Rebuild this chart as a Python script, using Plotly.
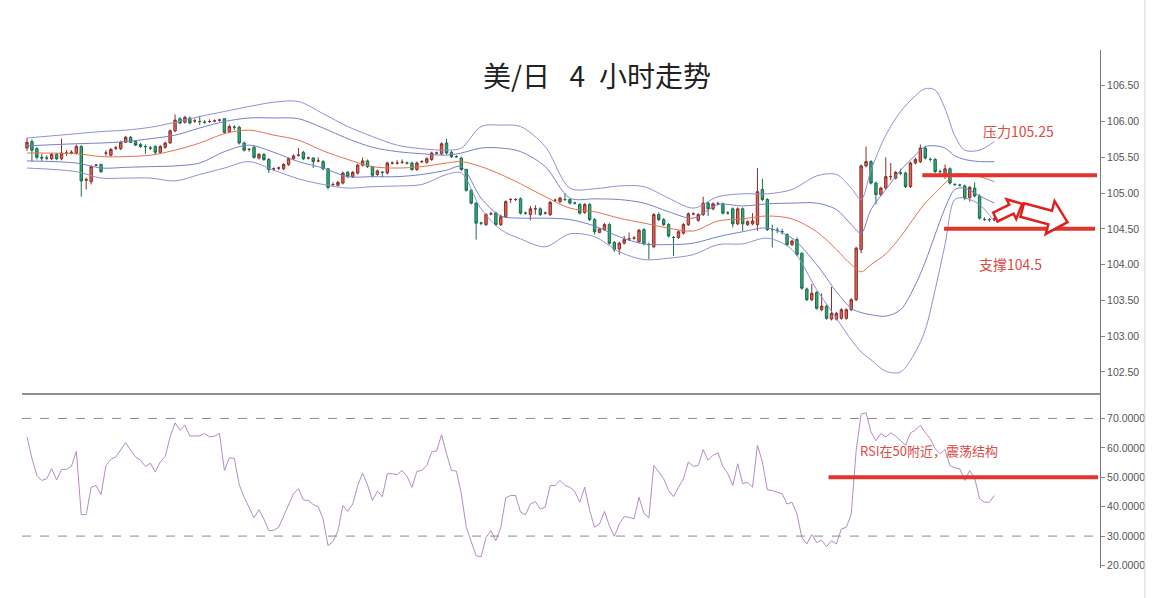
import math
import plotly.graph_objects as go

# ---------------- data ----------------
open_ = [105.63,105.72,105.62,105.50,105.49,105.48,105.54,105.48,105.56,105.56,
         105.56,105.65,105.18,105.16,105.39,105.40,105.56,105.53,105.63,105.62,
         105.71,105.78,105.72,105.68,105.65,105.63,105.65,105.57,105.64,105.70,
         105.87,106.04,105.99,106.05,106.01,106.00,105.99,106.00,106.01,106.02,
         106.04,105.86,105.92,105.92,105.70,105.61,105.64,105.49,105.54,105.47,
         105.34,105.35,105.34,105.40,105.48,105.53,105.57,105.49,105.49,105.45,
         105.44,105.34,105.12,105.11,105.14,105.29,105.23,105.28,105.39,105.45,
         105.37,105.26,105.29,105.28,105.42,105.42,105.43,105.42,105.42,105.33,
         105.44,105.43,105.47,105.56,105.55,105.70,105.57,105.51,105.49,105.33,
         105.04,104.86,104.58,104.56,104.71,104.72,104.56,104.67,104.91,104.91,
         104.92,104.72,104.70,104.78,104.78,104.72,104.70,104.90,104.88,104.91,
         104.91,104.86,104.84,104.73,104.84,104.63,104.45,104.49,104.56,104.31,
         104.22,104.30,104.36,104.37,104.32,104.49,104.28,104.25,104.70,104.63,
         104.56,104.38,104.38,104.44,104.56,104.71,104.62,104.70,104.86,104.78,
         104.85,104.85,104.72,104.78,104.57,104.78,104.56,104.57,104.56,105.05,
         104.91,104.49,104.48,104.46,104.42,104.28,104.35,104.16,103.66,103.51,
         103.61,103.37,103.42,103.24,103.24,103.25,103.25,103.37,103.51,104.21,
         105.38,105.44,105.14,104.98,105.07,105.23,105.21,105.28,105.28,105.09,
         105.42,105.44,105.63,105.47,105.47,105.30,105.26,105.34,105.12,105.11,
         105.10,104.94,105.07,104.96,104.63,104.63,104.64]
high_ = [105.77,105.75,105.64,105.55,105.53,105.56,105.56,105.76,105.60,105.60,
         105.68,105.67,105.22,105.39,105.41,105.41,105.60,105.63,105.66,105.73,
         105.80,105.80,105.74,105.70,105.68,105.66,105.67,105.67,105.72,105.89,
         106.10,106.06,106.08,106.07,106.04,106.08,106.02,106.03,106.03,106.04,
         106.05,105.96,105.95,105.94,105.72,105.63,105.66,105.56,105.56,105.49,
         105.36,105.37,105.42,105.50,105.54,105.63,105.59,105.51,105.50,105.50,
         105.46,105.35,105.15,105.17,105.30,105.31,105.31,105.41,105.50,105.47,
         105.38,105.33,105.31,105.44,105.44,105.46,105.47,105.44,105.44,105.44,
         105.46,105.50,105.58,105.58,105.71,105.76,105.59,105.53,105.51,105.34,
         105.05,104.87,104.60,104.72,104.74,104.74,104.70,104.90,104.93,104.93,
         104.94,104.74,104.82,104.83,104.80,104.74,104.89,104.92,104.95,105.00,
         104.92,104.88,104.86,104.86,104.86,104.65,104.50,104.58,104.58,104.33,
         104.32,104.40,104.45,104.40,104.50,104.51,104.31,104.72,104.73,104.65,
         104.58,104.40,104.48,104.58,104.73,104.73,104.72,104.95,104.88,104.87,
         104.88,104.87,104.75,104.80,104.80,104.80,104.62,104.72,105.35,105.20,
         104.93,104.56,104.52,104.50,104.44,104.35,104.38,104.17,103.68,103.73,
         103.63,103.60,103.44,103.69,103.34,103.39,103.39,103.53,104.25,105.40,
         105.65,105.46,105.16,105.09,105.50,105.42,105.31,105.34,105.30,105.44,
         105.50,105.68,105.66,105.50,105.49,105.33,105.40,105.36,105.14,105.13,
         105.12,105.10,105.15,104.98,104.66,104.65,104.67]
low_ = [105.59,105.44,105.47,105.45,105.46,105.46,105.46,105.46,105.52,105.54,
        105.54,104.95,105.05,105.12,105.37,105.28,105.52,105.51,105.60,105.60,
        105.70,105.70,105.66,105.63,105.55,105.60,105.53,105.55,105.62,105.69,
        105.85,105.96,105.97,105.96,105.98,105.95,105.97,105.98,105.99,106.00,
        105.83,105.84,105.88,105.68,105.58,105.58,105.48,105.47,105.45,105.28,
        105.31,105.32,105.32,105.38,105.46,105.51,105.46,105.47,105.35,105.43,
        105.32,105.05,105.09,105.09,105.12,105.21,105.21,105.26,105.37,105.35,
        105.22,105.24,105.22,105.26,105.40,105.40,105.41,105.40,105.31,105.31,
        105.42,105.41,105.45,105.54,105.53,105.54,105.49,105.49,105.31,105.02,
        104.84,104.35,104.55,104.54,104.69,104.54,104.54,104.65,104.86,104.89,
        104.70,104.70,104.62,104.70,104.68,104.70,104.68,104.88,104.86,104.89,
        104.84,104.84,104.70,104.71,104.61,104.42,104.44,104.47,104.28,104.18,
        104.14,104.28,104.33,104.35,104.30,104.27,104.07,104.23,104.61,104.54,
        104.38,104.12,104.36,104.42,104.54,104.69,104.60,104.68,104.68,104.76,
        104.83,104.70,104.70,104.52,104.55,104.47,104.54,104.55,104.47,104.89,
        104.47,104.24,104.44,104.42,104.26,104.26,104.12,103.65,103.49,103.49,
        103.37,103.35,103.23,103.22,103.22,103.23,103.23,103.35,103.49,104.16,
        105.36,105.12,104.84,104.96,105.05,105.18,105.19,105.25,105.07,105.07,
        105.40,105.42,105.47,105.44,105.28,105.27,105.20,105.12,105.10,105.09,
        104.90,104.88,104.94,104.63,104.61,104.60,104.61]
close_ = [105.71,105.60,105.50,105.49,105.49,105.54,105.48,105.56,105.56,105.57,
          105.65,105.17,105.19,105.37,105.39,105.30,105.56,105.61,105.63,105.71,
          105.78,105.71,105.67,105.65,105.65,105.63,105.57,105.65,105.70,105.87,
          106.02,105.98,106.06,105.98,106.01,106.00,105.99,106.00,106.01,106.02,
          105.85,105.93,105.92,105.70,105.60,105.61,105.50,105.54,105.47,105.33,
          105.34,105.35,105.40,105.48,105.52,105.53,105.48,105.49,105.44,105.45,
          105.34,105.08,105.12,105.15,105.28,105.23,105.29,105.39,105.45,105.37,
          105.25,105.31,105.29,105.42,105.42,105.42,105.43,105.42,105.33,105.42,
          105.44,105.48,105.56,105.56,105.69,105.56,105.51,105.51,105.33,105.04,
          104.86,104.58,104.58,104.70,104.71,104.56,104.67,104.88,104.91,104.91,
          104.72,104.72,104.78,104.78,104.70,104.72,104.87,104.90,104.93,104.91,
          104.86,104.86,104.72,104.84,104.63,104.46,104.50,104.56,104.30,104.21,
          104.30,104.35,104.36,104.37,104.48,104.29,104.28,104.70,104.63,104.56,
          104.40,104.38,104.46,104.56,104.71,104.71,104.70,104.86,104.78,104.85,
          104.85,104.72,104.72,104.57,104.78,104.57,104.60,104.61,105.02,104.91,
          104.49,104.49,104.48,104.46,104.28,104.33,104.14,103.67,103.51,103.60,
          103.39,103.42,103.25,103.32,103.32,103.37,103.37,103.51,104.23,105.38,
          105.44,105.14,104.98,105.07,105.23,105.23,105.29,105.28,105.09,105.42,
          105.47,105.63,105.49,105.47,105.30,105.30,105.34,105.14,105.12,105.11,
          104.93,105.08,104.96,104.65,104.63,104.63,104.64]

# Bollinger band lines, read at sampled bar positions
bb_idx = [0,10,15,20,25,30,35,40,45,50,55,60,65,70,75,80,85,88,92,96,100,105,110,
          115,120,125,130,135,140,145,150,155,160,164,167,169,171,174,177,180,182,
          184,186,188,190,193,196]
bb_outer_up = [105.77,105.83,105.86,105.88,105.92,105.99,106.07,106.14,106.21,106.27,
               106.28,106.11,105.93,105.79,105.67,105.62,105.60,105.63,105.93,105.95,
               105.93,105.65,105.07,105.06,105.10,105.09,104.93,104.79,104.95,104.99,
               104.99,105.05,105.24,105.26,105.07,104.91,105.32,105.81,106.14,106.36,
               106.46,106.44,106.18,105.80,105.60,105.60,105.72]
bb_inner_up = [105.66,105.69,105.70,105.72,105.76,105.81,105.91,106.00,106.05,106.05,
               106.04,105.91,105.76,105.64,105.58,105.55,105.53,105.56,105.63,105.63,
               105.58,105.37,104.93,104.92,104.91,104.86,104.74,104.65,104.84,104.82,
               104.85,104.86,104.86,104.77,104.56,104.44,104.77,105.05,105.32,105.53,
               105.65,105.66,105.63,105.52,105.47,105.44,105.44]
bb_mid = [105.56,105.55,105.51,105.51,105.53,105.60,105.70,105.83,105.88,105.81,
          105.74,105.59,105.47,105.37,105.35,105.37,105.42,105.44,105.37,105.26,
          105.13,104.95,104.79,104.74,104.65,104.58,104.51,104.47,104.61,104.64,
          104.68,104.64,104.46,104.21,104.00,103.90,104.00,104.15,104.39,104.68,
          104.86,105.00,105.14,105.26,105.27,105.23,105.16]
bb_inner_dn = [105.45,105.42,105.35,105.36,105.37,105.38,105.42,105.58,105.67,105.57,
               105.44,105.35,105.23,105.23,105.23,105.26,105.32,105.37,104.93,104.68,
               104.65,104.65,104.63,104.54,104.39,104.29,104.28,104.30,104.39,104.46,
               104.51,104.37,104.00,103.62,103.39,103.33,103.30,103.28,103.37,103.72,
               104.04,104.42,104.79,105.05,105.07,104.96,104.86]
bb_outer_dn = [105.35,105.30,105.21,105.21,105.21,105.17,105.26,105.35,105.44,105.32,
               105.20,105.12,105.07,105.09,105.10,105.12,105.26,105.28,104.78,104.49,
               104.36,104.25,104.43,104.39,104.18,104.07,104.09,104.14,104.28,104.29,
               104.37,104.21,103.65,103.25,102.95,102.78,102.67,102.51,102.50,102.78,
               103.09,103.65,104.28,104.91,104.93,104.84,104.60]

rsi = [63.7,56.5,50.6,48.9,49.5,52.9,49.1,52.6,52.7,53.7,58.8,37.3,37.3,46.6,47.2,44.1,
       54.0,56.1,56.9,59.5,61.8,59.2,56.9,55.8,53.7,54.8,51.8,55.2,57.1,63.7,68.5,66.0,
       67.7,64.0,64.0,64.1,64.9,63.7,64.0,64.9,52.3,56.6,56.4,47.5,43.2,39.8,36.2,39.0,
       35.8,31.8,32.0,33.0,37.0,40.5,44.4,46.1,42.3,42.1,40.7,40.0,35.8,26.7,28.2,31.8,
       40.4,38.4,40.9,47.2,51.4,47.4,42.1,45.3,43.4,51.2,51.2,50.9,52.3,50.3,46.6,52.0,
       52.3,54.0,58.6,58.9,64.5,58.0,52.3,52.1,44.4,33.0,28.4,23.3,23.0,29.5,31.8,28.4,
       33.0,43.0,43.8,43.8,38.1,37.3,40.9,41.7,39.2,39.8,47.2,47.2,48.9,47.2,46.6,45.2,
       41.5,46.6,38.7,33.0,34.1,38.4,33.5,29.9,34.1,36.6,36.4,35.8,43.2,37.7,36.2,54.0,
       51.8,49.5,45.5,43.4,46.6,49.5,55.2,53.7,54.0,59.4,55.8,57.5,58.3,53.7,51.2,47.2,
       54.6,47.8,48.3,46.6,60.9,55.2,45.7,45.5,44.9,44.4,40.9,41.5,37.5,29.5,27.3,30.5,
       27.8,28.6,26.4,28.4,27.3,32.4,33.0,37.5,59.2,71.5,71.9,65.4,62.4,64.9,63.7,65.1,
       64.0,62.6,60.9,65.1,66.0,67.7,65.1,63.2,59.7,58.0,59.4,54.0,53.2,52.9,48.9,52.3,
       49.8,42.7,41.5,41.5,43.8]

price_ticks = [102.5, 103.0, 103.5, 104.0, 104.5, 105.0, 105.5, 106.0, 106.5]
rsi_ticks = [20, 30, 40, 50, 60, 70]
resistance = 105.25
support = 104.5
rsi_mid = 50
rsi_bands = [70, 30]

bars = list(range(len(close_)))

# ---------------- layout geometry ----------------
W, H = 1157, 598
PL, PR, PT, PB = 22, 1103, 50, 568
SPLIT = 394  # pixel row between the two panels


def px(xp):
    return (xp - PL) / (PR - PL)


def py(yp):
    return (PB - yp) / (PB - PT)


split_frac = py(SPLIT)
x_range = [-1.01, 217.4]

fig = go.Figure()

outer_c = "#9090d4"
inner_c = "#7282c4"
mid_c = "#e4714e"
for arr, col in [(bb_outer_up, outer_c), (bb_inner_up, inner_c), (bb_mid, mid_c),
                 (bb_inner_dn, inner_c), (bb_outer_dn, outer_c)]:
    fig.add_trace(go.Scatter(x=bb_idx, y=arr, mode="lines",
                             line=dict(color=col, width=1, shape="spline", smoothing=0.9),
                             hoverinfo="skip", xaxis="x", yaxis="y"))

fig.add_trace(go.Candlestick(
    x=bars, open=open_, high=high_, low=low_, close=close_,
    increasing=dict(line=dict(color="#8a2f2a", width=1), fillcolor="#e0625a"),
    decreasing=dict(line=dict(color="#1d6b4b", width=1), fillcolor="#2eaa78"),
    xaxis="x", yaxis="y"))

fig.add_trace(go.Scatter(x=bars, y=rsi, mode="lines",
                         line=dict(color="#b48ac6", width=1),
                         xaxis="x2", yaxis="y2", hoverinfo="skip"))

shapes = []
# separator between panels
shapes.append(dict(type="line", xref="paper", yref="paper", x0=0, x1=1,
                   y0=split_frac, y1=split_frac, line=dict(color="#6a6a6a", width=1.5)))
# RSI 70/30 dashed guides
for lv in rsi_bands:
    shapes.append(dict(type="line", xref="paper", yref="y2", x0=0, x1=1, y0=lv, y1=lv,
                       line=dict(color="#8a8a8a", width=1, dash="dash")))
# support / resistance
red = "#e2352f"
shapes.append(dict(type="line", xref="x", yref="y", x0=181.4, x1=216.8,
                   y0=resistance, y1=resistance, line=dict(color=red, width=4)))
shapes.append(dict(type="line", xref="x", yref="y", x0=185.8, x1=216.4,
                   y0=support, y1=support, line=dict(color=red, width=4)))
shapes.append(dict(type="line", xref="x2", yref="y2", x0=162.4, x1=217.0,
                   y0=rsi_mid, y1=rsi_mid, line=dict(color=red, width=4)))


def arrow_path(x0, y0, L, h, Hh, hl, ang_deg):
    a = math.radians(ang_deg)
    ca, sa = math.cos(a), math.sin(a)
    pts = [(0, -h), (L - hl, -h), (L - hl, -Hh), (L, 0), (L - hl, Hh), (L - hl, h), (0, h)]
    out = []
    for u, v in pts:
        X = x0 + u * ca - v * sa
        Y = y0 + u * sa + v * ca
        out.append(f"{px(X):.5f},{py(Y):.5f}")
    return "M " + " L ".join(out) + " Z"


for spec in [(998, 217, 30, 5, 11, 12, -26), (1025, 210, 47, 7, 17, 18, 15)]:
    shapes.append(dict(type="path", xref="paper", yref="paper", path=arrow_path(*spec),
                       line=dict(color="#e0201c", width=2.5), fillcolor="white"))

# right border
shapes.append(dict(type="line", xref="paper", yref="paper", x0=px(1148), x1=px(1148),
                   y0=py(598), y1=py(0), line=dict(color="#d8d8d8", width=1)))

text_red = "#de4a44"
annotations = [
    dict(text="美/日\u2002\u20094\u2002小时走势", x=px(599), y=py(75), xref="paper", yref="paper",
         showarrow=False, xanchor="center", yanchor="middle",
         font=dict(family="Noto Sans CJK SC", size=28, color="#222222")),
    dict(text="压力105.25", x=px(984), y=py(131), xref="paper", yref="paper",
         showarrow=False, xanchor="left", yanchor="middle",
         font=dict(family="Noto Sans CJK SC", size=14, color=text_red)),
    dict(text="支撑104.5", x=px(980), y=py(264), xref="paper", yref="paper",
         showarrow=False, xanchor="left", yanchor="middle",
         font=dict(family="Noto Sans CJK SC", size=14, color=text_red)),
    dict(text="RSI在50附近，震荡结构", x=px(860), y=py(450), xref="paper", yref="paper",
         showarrow=False, xanchor="left", yanchor="middle",
         font=dict(family="Noto Sans CJK SC", size=13, color=text_red)),
]

axis_font = dict(family="Liberation Sans, Arial", size=10.5, color="#555555")
fig.update_layout(
    width=W, height=H, autosize=False,
    margin=dict(l=PL, r=W - PR, t=PT, b=H - PB, pad=0),
    paper_bgcolor="white", plot_bgcolor="white", showlegend=False,
    xaxis=dict(domain=[0, 1], range=x_range, anchor="y", visible=False,
               rangeslider=dict(visible=False), fixedrange=True),
    xaxis2=dict(domain=[0, 1], range=x_range, anchor="y2", visible=False,
                rangeslider=dict(visible=False)),
    yaxis=dict(domain=[split_frac, 1], range=[102.192, 107.0], side="right", anchor="x",
               tickvals=price_ticks, tickformat=".2f", ticks="outside", ticklen=4,
               tickcolor="#888888", showline=True, linecolor="#777777", linewidth=1,
               showgrid=False, zeroline=False, tickfont=axis_font),
    yaxis2=dict(domain=[0, split_frac], range=[19.15, 78.31], side="right", anchor="x2",
                tickvals=rsi_ticks, tickformat=".4f", ticks="outside", ticklen=4,
                tickcolor="#888888", showline=True, linecolor="#777777", linewidth=1,
                showgrid=False, zeroline=False, tickfont=axis_font),
    shapes=shapes, annotations=annotations,
)

fig.write_html("out.html", config={"displayModeBar": False},
               post_script="document.body.style.margin='0px';document.body.style.overflow='hidden';")
